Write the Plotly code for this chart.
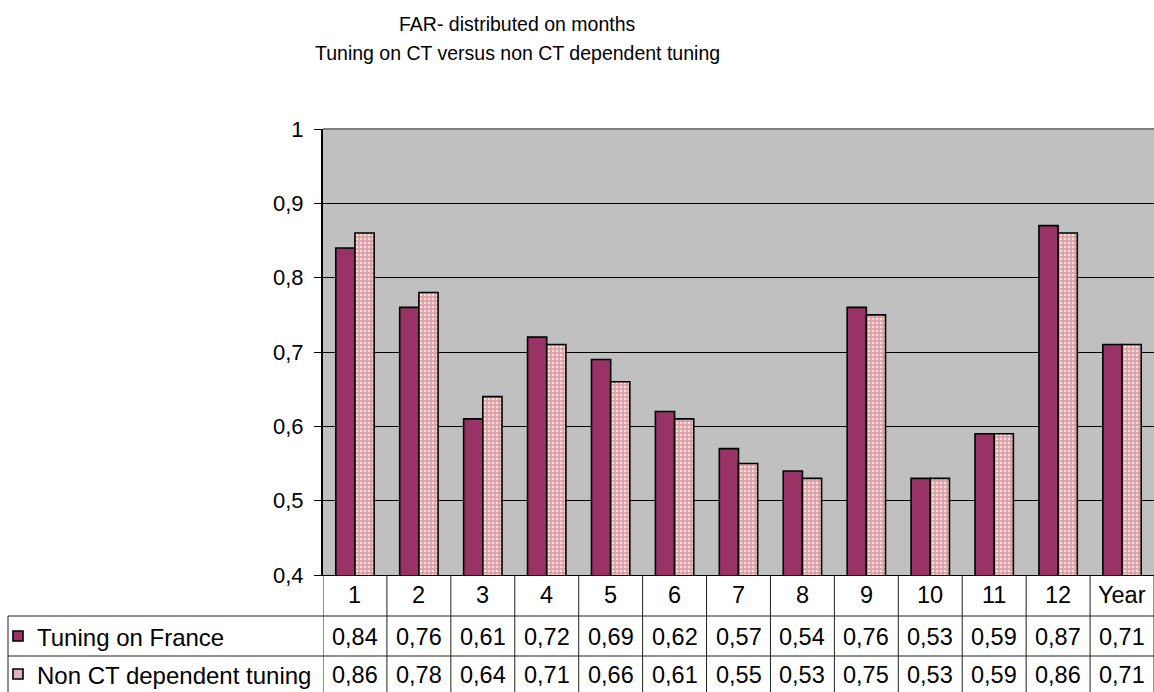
import plotly.graph_objects as go

# Monthly FAR values for the two tuning variants
months = ["1", "2", "3", "4", "5", "6", "7", "8", "9", "10", "11", "12", "Year"]
tuning_france = [0.84, 0.76, 0.61, 0.72, 0.69, 0.62, 0.57, 0.54, 0.76, 0.53, 0.59, 0.87, 0.71]
non_ct_tuning = [0.86, 0.78, 0.64, 0.71, 0.66, 0.61, 0.55, 0.53, 0.75, 0.53, 0.59, 0.86, 0.71]
series_names = ["Tuning on France", "Non CT dependent tuning"]
y_ticks = [0.4, 0.5, 0.6, 0.7, 0.8, 0.9, 1.0]

W, H = 1154, 692
ML, MR, MT, MB = 323, 0, 129, 117
PW = W - ML - MR
PH = H - MT - MB

FONT = "Liberation Sans, Arial, sans-serif"
MAROON = "#993366"
PINK = "#DE9CB0"
LINE = "#202020"
TABLE_SIZE = 23.5


def comma(v):
    return f"{v:.2f}".replace(".", ",")


def tick_text(v):
    return "1" if v == 1 else f"{v:.1f}".replace(".", ",")


def py(pixel_y):
    # pixel row -> paper y
    return (H - MB - pixel_y) / PH


def px(pixel_x):
    return (pixel_x - ML) / PW


xs = list(range(len(months)))

fig = go.Figure()
fig.add_trace(go.Bar(
    x=xs, y=tuning_france, name=series_names[0],
    marker=dict(color=MAROON, line=dict(color="black", width=1.6)),
))
fig.add_trace(go.Bar(
    x=xs, y=non_ct_tuning, name=series_names[1],
    marker=dict(
        color=PINK,
        line=dict(color="black", width=1.6),
        pattern=dict(shape=".", fillmode="replace", bgcolor=PINK,
                     fgcolor="#F6E4C8", size=4, solidity=0.35),
    ),
))

shapes = []
# plot area top border
shapes.append(dict(type="line", xref="paper", yref="paper", x0=0, x1=1, y0=1, y1=1,
                   line=dict(color="#808080", width=2)))

# data table grid
row_lines = [616, 656]
bottom = py(H + 5)
for k in range(-1, len(months)):
    shapes.append(dict(type="line", xref="x", yref="paper", x0=k + 0.5, x1=k + 0.5,
                       y0=0, y1=bottom, line=dict(color=LINE, width=1)))
for r in row_lines:
    shapes.append(dict(type="line", xref="paper", yref="paper", x0=px(8), x1=1.01,
                       y0=py(r), y1=py(r), line=dict(color=LINE, width=1)))
shapes.append(dict(type="line", xref="paper", yref="paper", x0=px(8), x1=px(8),
                   y0=py(616), y1=bottom, line=dict(color=LINE, width=1)))

# legend keys in the table
key_fill = [MAROON, "#E2B0BE"]
key_top = [631, 669]
for fill, top in zip(key_fill, key_top):
    shapes.append(dict(type="rect", xref="paper", yref="paper",
                       x0=px(13), x1=px(23), y0=py(top), y1=py(top + 10),
                       fillcolor=fill, line=dict(color="black", width=1.6)))

annotations = []
# titles
annotations.append(dict(text="FAR- distributed on months", xref="paper", yref="paper",
                        x=px(517), y=py(24), xanchor="center", yanchor="middle",
                        showarrow=False, font=dict(family=FONT, size=19.5, color="black")))
annotations.append(dict(text="Tuning on CT versus non CT dependent tuning", xref="paper",
                        yref="paper", x=px(517), y=py(53), xanchor="center",
                        yanchor="middle", showarrow=False,
                        font=dict(family=FONT, size=19.5, color="black")))

row_centers = [595, 637, 675]
for i, m in enumerate(months):
    annotations.append(dict(text=m, xref="x", yref="paper", x=i, y=py(row_centers[0]),
                            xanchor="center", yanchor="middle", showarrow=False,
                            font=dict(family=FONT, size=TABLE_SIZE, color="black")))
    for vals, rc in ((tuning_france, row_centers[1]), (non_ct_tuning, row_centers[2])):
        annotations.append(dict(text=comma(vals[i]), xref="x", yref="paper", x=i,
                                y=py(rc), xanchor="center", yanchor="middle",
                                showarrow=False,
                                font=dict(family=FONT, size=TABLE_SIZE, color="black")))
for name, rc in zip(series_names, row_centers[1:]):
    annotations.append(dict(text=name, xref="paper", yref="paper", x=px(35), y=py(rc),
                            xanchor="left", yanchor="middle", showarrow=False,
                            font=dict(family=FONT, size=24, color="black")))

fig.update_layout(
    width=W, height=H,
    margin=dict(l=ML, r=MR, t=MT, b=MB, pad=0),
    paper_bgcolor="white",
    plot_bgcolor="#C0C0C0",
    barmode="group",
    bargap=0.4,
    bargroupgap=0,
    showlegend=False,
    shapes=shapes,
    annotations=annotations,
    font=dict(family=FONT, size=22, color="black"),
    xaxis=dict(range=[-0.5, len(months) - 0.5], showticklabels=False, ticks="",
               showgrid=False, zeroline=False, showline=True, linecolor="black",
               linewidth=1, fixedrange=True),
    yaxis=dict(range=[0.4, 1.0], tickvals=y_ticks, ticktext=[tick_text(v) for v in y_ticks],
               showgrid=True, gridcolor="black", gridwidth=1, zeroline=False,
               showline=True, linecolor="black", linewidth=2, ticks="outside",
               ticklen=7, tickcolor="black", tickwidth=1, ticklabelstandoff=6,
               tickfont=dict(family=FONT, size=22, color="black"), fixedrange=True),
)

fig.write_html("out.html")
